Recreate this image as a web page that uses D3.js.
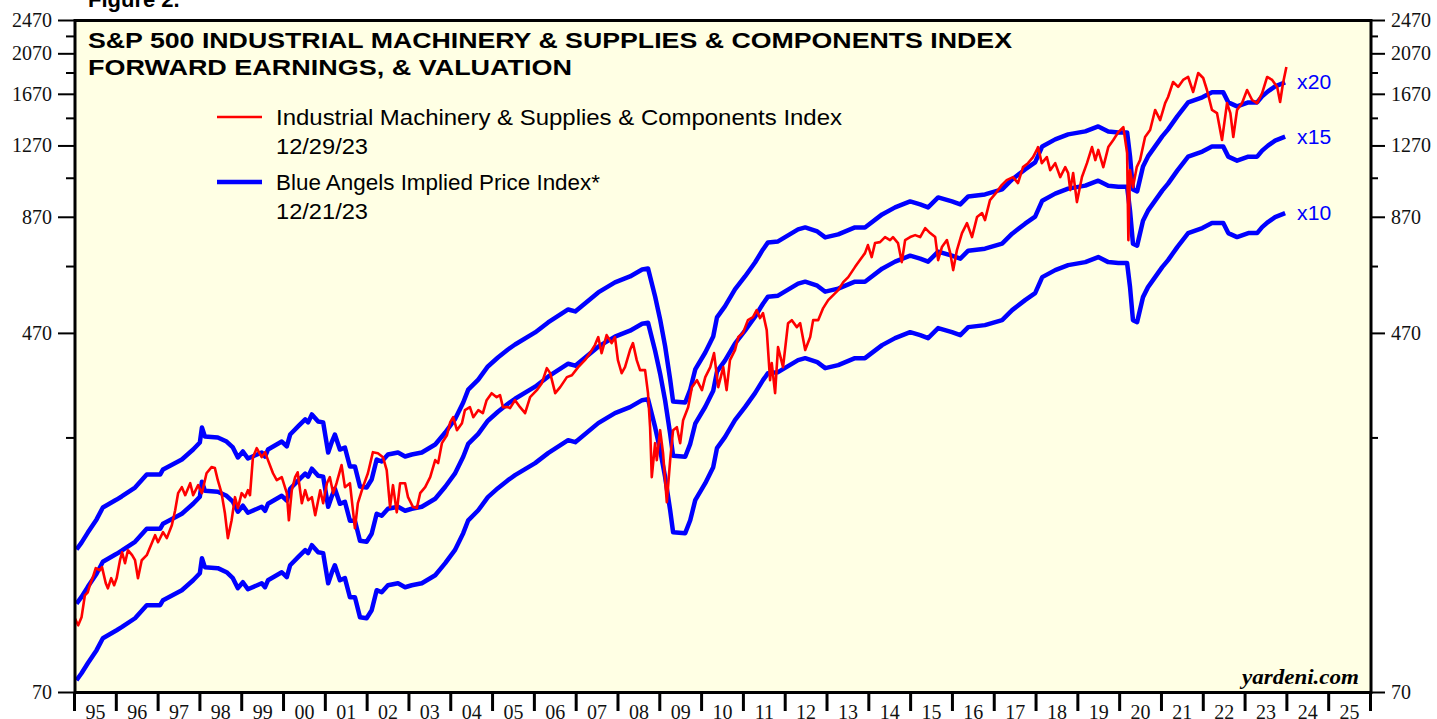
<!DOCTYPE html>
<html><head><meta charset="utf-8">
<script src="https://cdn.jsdelivr.net/npm/d3@7"></script>
<style>body{margin:0;background:#fff}svg{display:block}</style>
</head><body><svg id="c" width="1437" height="719"></svg>
<script>
// ---- DATA ----
const feDates = [1995.06,1995.18,1995.33,1995.54,1995.69,1996.02,1996.14,1996.46,1996.74,1997.06,
1997.13,1997.58,1997.85,1998.01,1998.06,1998.13,1998.44,1998.65,1998.80,1998.92,
1999.04,1999.16,1999.49,1999.57,1999.64,1999.97,2000.09,2000.17,2000.36,2000.53,
2000.60,2000.69,2000.84,2000.96,2001.08,2001.17,2001.24,2001.36,2001.48,2001.60,
2001.72,2001.84,2002.00,2002.12,2002.24,2002.36,2002.51,2002.75,2002.92,2003.08,
2003.32,2003.64,2003.88,2004.11,2004.31,2004.43,2004.67,2004.90,2005.14,2005.38,
2005.55,2006.03,2006.34,2006.82,2006.99,2007.54,2007.94,2008.30,2008.59,2008.73,
2008.90,2009.02,2009.14,2009.26,2009.33,2009.62,2009.74,2009.86,2010.10,2010.29,
2010.38,2010.57,2010.81,2011.05,2011.29,2011.48,2011.60,2011.84,2012.32,2012.49,
2012.78,2012.97,2013.28,2013.68,2013.92,2014.33,2014.64,2015.00,2015.24,2015.43,
2015.67,2016.00,2016.20,2016.39,2016.79,2017.20,2017.44,2017.75,2017.99,2018.16,
2018.47,2018.78,2019.19,2019.50,2019.74,2019.98,2020.19,2020.26,2020.33,2020.43,
2020.57,2020.69,2020.86,2021.03,2021.17,2021.39,2021.65,2021.99,2022.22,2022.49,
2022.61,2022.82,2023.09,2023.30,2023.42,2023.56,2023.73,2023.97];
const forwardEarnings = [7.45,7.73,8.15,8.74,9.31,9.71,9.87,10.35,11.09,11.09,
11.39,12.01,12.66,13.14,14.23,13.57,13.50,13.21,12.80,12.14,
12.53,12.07,12.46,12.20,12.66,13.21,12.87,13.71,14.31,14.85,
14.62,15.25,14.69,14.62,12.46,13.21,13.71,12.66,12.80,11.57,
11.57,10.41,10.35,10.80,12.01,11.88,12.33,12.46,12.20,12.33,
12.46,13.00,13.86,14.85,16.25,17.40,18.35,19.67,20.63,21.52,
22.10,23.56,24.84,26.61,26.33,29.13,30.71,31.70,32.90,33.08,
28.51,25.24,21.87,18.35,16.34,16.25,17.40,19.36,21.18,23.06,
25.51,27.04,29.59,31.70,34.14,36.58,37.97,38.17,40.68,41.11,
40.25,38.99,39.62,41.11,41.11,44.05,45.72,47.19,46.45,45.72,
48.21,47.19,46.45,48.46,48.98,50.29,53.03,55.92,58.03,63.18,
65.57,67.33,68.41,70.25,68.41,68.05,68.05,59.91,50.29,49.77,
56.82,59.91,63.18,66.62,69.14,74.08,79.79,81.94,84.14,84.14,
79.79,78.12,79.79,79.79,82.37,84.59,86.86,88.72];

const priceDates = [1995.02,1995.10,1995.18,1995.26,1995.33,1995.38,1995.45,1995.52,1995.62,1995.67,
1995.76,1995.81,1995.89,1995.96,1996.02,1996.10,1996.15,1996.22,1996.29,1996.39,
1996.46,1996.53,1996.62,1996.74,1996.86,1996.94,1997.01,1997.13,1997.22,1997.34,
1997.42,1997.49,1997.58,1997.66,1997.78,1997.85,1997.97,1998.06,1998.17,1998.29,
1998.37,1998.44,1998.53,1998.61,1998.68,1998.77,1998.85,1998.92,1999.01,1999.09,
1999.16,1999.21,1999.28,1999.37,1999.49,1999.57,1999.64,1999.76,1999.85,1999.97,
2000.09,2000.14,2000.21,2000.29,2000.35,2000.45,2000.53,2000.60,2000.69,2000.77,
2000.89,2000.96,2001.05,2001.12,2001.20,2001.28,2001.40,2001.48,2001.60,2001.72,
2001.79,2001.91,2002.03,2002.15,2002.27,2002.39,2002.48,2002.56,2002.63,2002.72,
2002.80,2002.92,2002.99,2003.11,2003.20,2003.28,2003.40,2003.52,2003.64,2003.71,
2003.80,2003.92,2004.00,2004.07,2004.16,2004.28,2004.35,2004.47,2004.55,2004.67,
2004.78,2004.87,2004.99,2005.11,2005.19,2005.26,2005.38,2005.43,2005.55,2005.67,
2005.79,2005.91,2006.07,2006.19,2006.31,2006.39,2006.51,2006.63,2006.79,2006.91,
2007.06,2007.22,2007.34,2007.46,2007.54,2007.62,2007.74,2007.86,2007.94,2008.01,
2008.10,2008.18,2008.30,2008.37,2008.46,2008.54,2008.66,2008.73,2008.78,2008.82,
2008.90,2008.94,2009.02,2009.09,2009.18,2009.26,2009.33,2009.42,2009.50,2009.57,
2009.69,2009.78,2009.90,2010.02,2010.10,2010.22,2010.31,2010.41,2010.53,2010.61,
2010.69,2010.81,2010.89,2011.00,2011.12,2011.24,2011.33,2011.41,2011.48,2011.57,
2011.65,2011.69,2011.77,2011.84,2011.96,2012.08,2012.17,2012.29,2012.37,2012.49,
2012.61,2012.68,2012.80,2012.92,2013.04,2013.16,2013.28,2013.40,2013.52,2013.68,
2013.80,2013.92,2013.99,2014.08,2014.16,2014.28,2014.40,2014.52,2014.59,2014.71,
2014.80,2014.88,2015.00,2015.12,2015.24,2015.36,2015.48,2015.60,2015.67,2015.76,
2015.88,2015.96,2016.03,2016.12,2016.24,2016.36,2016.48,2016.60,2016.72,2016.79,
2016.91,2017.07,2017.19,2017.31,2017.46,2017.58,2017.70,2017.82,2017.94,2018.03,
2018.06,2018.15,2018.27,2018.35,2018.47,2018.59,2018.71,2018.78,2018.83,2018.90,
2018.99,2019.11,2019.23,2019.35,2019.43,2019.50,2019.62,2019.74,2019.86,2019.98,
2020.10,2020.19,2020.22,2020.26,2020.33,2020.42,2020.50,2020.62,2020.74,2020.86,
2020.98,2021.10,2021.17,2021.29,2021.41,2021.53,2021.65,2021.77,2021.89,2022.01,
2022.10,2022.22,2022.34,2022.46,2022.58,2022.66,2022.73,2022.82,2022.94,2023.06,
2023.18,2023.30,2023.42,2023.54,2023.66,2023.78,2023.85,2023.92,2024.00];
const priceValues = [103.5,99.7,104.0,116.9,118.8,123.3,128.6,135.0,133.5,135.7,
124.6,121.3,128.0,123.3,128.0,140.8,146.9,138.6,148.5,144.6,
140.8,128.0,140.8,144.6,154.1,160.8,154.9,163.4,158.3,169.5,
183.6,200.9,207.4,198.8,211.8,198.8,209.6,200.9,223.3,230.7,
229.5,215.2,200.9,180.6,158.3,174.0,196.7,185.6,200.9,196.7,
204.1,198.8,243.2,255.1,243.2,249.7,239.4,223.3,215.2,218.7,
200.9,174.0,204.1,218.7,224.5,190.5,204.1,193.6,196.7,178.7,
204.1,190.5,211.8,218.7,200.9,211.8,233.2,207.4,211.8,166.8,
190.5,207.4,223.3,249.7,248.4,243.2,227.0,186.6,209.6,181.5,
211.8,211.8,196.7,186.6,185.6,200.9,207.4,218.7,239.4,235.6,
261.9,273.2,292.8,300.6,280.6,291.2,312.0,317.0,300.6,312.0,
307.1,329.0,341.4,334.3,337.8,317.0,317.0,315.3,329.0,317.0,
307.1,334.3,346.9,360.0,389.9,379.7,341.4,352.5,371.7,375.6,
392.0,406.8,422.2,440.6,459.7,422.2,464.5,445.3,459.7,406.8,
379.7,392.0,429.1,445.3,406.8,385.8,385.8,341.4,285.1,218.7,
261.9,239.4,280.6,248.4,191.5,239.4,280.6,285.1,261.9,295.9,
317.0,352.5,365.8,346.9,371.7,392.0,422.2,352.5,392.0,346.9,
406.8,429.1,459.7,469.5,502.9,510.9,530.3,508.3,521.9,477.0,
365.8,400.4,341.4,435.9,392.0,494.9,502.9,484.6,494.9,429.1,
459.7,502.9,502.9,536.0,559.2,574.2,589.7,615.2,631.8,666.2,
691.4,717.5,748.7,702.5,756.7,760.6,781.2,768.8,781.2,756.7,
684.1,768.8,781.2,789.4,781.2,819.4,797.9,781.2,691.4,740.8,
768.8,717.5,655.7,729.1,797.9,841.4,781.2,868.6,887.2,854.8,
950.5,991.6,1029,1057,1074,1040,1132,1156,1194,1240,
1259,1156,1194,1114,1156,1074,1132,1097,1002,1097,
940.4,1074,1156,1259,1175,1240,1132,1259,1307,1363,
1400,1220,768.8,1114,1018,1132,1175,1328,1378,1533,
1453,1590,1642,1778,1732,1797,1826,1686,1865,1816,
1704,1533,1508,1307,1590,1508,1328,1533,1590,1704,
1616,1590,1677,1826,1797,1732,1599,1769,1925];

const multiples = [10, 15, 20];
const multipleLabels = ["x10", "x15", "x20"];
const yMajorTicks = [70, 470, 870, 1270, 1670, 2070, 2470];
const yMinorTicks = [270, 670, 1070, 1470, 1870, 2270];
const yearTicks = [1995,1996,1997,1998,1999,2000,2001,2002,2003,2004,2005,2006,2007,2008,2009,2010,
  2011,2012,2013,2014,2015,2016,2017,2018,2019,2020,2021,2022,2023,2024,2025,2026];
const yearLabels = ["95","96","97","98","99","00","01","02","03","04","05","06","07","08","09","10",
  "11","12","13","14","15","16","17","18","19","20","21","22","23","24","25"];
const titleLines = ["S&P 500 INDUSTRIAL MACHINERY & SUPPLIES & COMPONENTS INDEX", "FORWARD EARNINGS, & VALUATION"];
const legendItems = [
  {name: "Industrial Machinery & Supplies & Components Index", date: "12/29/23", color: "#ff0000", w: 2.5},
  {name: "Blue Angels Implied Price Index*", date: "12/21/23", color: "#0000ff", w: 4.5}
];

// ---- CHART ----
const svg = d3.select("#c");
const L = 74, R = 1370, T = 20, B = 692;
const x = d3.scaleLinear().domain([1995, 2026]).range([L, R]);
const y = d3.scaleLog().domain([70, 2470]).range([B, T]);

svg.append("text").attr("x", 88).attr("y", 7).attr("font-family", "Liberation Sans")
  .attr("font-weight", "bold").attr("font-size", 22).attr("fill", "#000").text("Figure 2.");

svg.append("rect").attr("x", L).attr("y", T).attr("width", R - L).attr("height", B - T)
  .attr("fill", "#ffffe4");

svg.append("defs").append("clipPath").attr("id", "clip")
  .append("rect").attr("x", L + 1).attr("y", T + 1).attr("width", R - L - 2).attr("height", B - T - 2);

const plot = svg.append("g").attr("clip-path", "url(#clip)");
const line = d3.line().x(d => x(d.t)).y(d => y(d.v));

multiples.forEach(m => {
  const data = feDates.map((t, i) => ({t, v: forwardEarnings[i] * m}));
  plot.append("path").datum(data).attr("d", line).attr("fill", "none")
    .attr("stroke", "#0000ff").attr("stroke-width", 4.5).attr("stroke-linejoin", "round");
});
const priceData = priceDates.map((t, i) => ({t, v: priceValues[i]}));
plot.append("path").datum(priceData).attr("d", line).attr("fill", "none")
  .attr("stroke", "#ff0000").attr("stroke-width", 2.6).attr("stroke-linejoin", "round");

// multiple labels
const lastFE = forwardEarnings[forwardEarnings.length - 1];
const lastT = feDates[feDates.length - 1];
multiples.forEach((m, i) => {
  svg.append("text").attr("x", x(lastT) + 12).attr("y", y(lastFE * m)).attr("dy", "0.35em")
    .attr("font-family", "Liberation Sans").attr("font-size", 20).attr("fill", "#0000ff")
    .attr("textLength", 34).attr("lengthAdjust", "spacingAndGlyphs")
    .text(multipleLabels[i]);
});

// frame
svg.append("rect").attr("x", L + 1).attr("y", T + 0.5).attr("width", R - L).attr("height", B - T)
  .attr("fill", "none").attr("stroke", "#000").attr("stroke-width", 3);

// y axes
function styleAxis(g) {
  g.select(".domain").remove();
  g.selectAll(".tick line").attr("stroke", "#000").attr("stroke-width", 2);
  g.selectAll(".tick text").attr("font-family", "Liberation Serif").attr("font-size", 20).attr("fill", "#111");
}
svg.append("g").attr("transform", `translate(${L},0)`)
  .call(d3.axisLeft(y).tickValues(yMajorTicks).tickFormat(d3.format("d")).tickSize(16).tickPadding(6))
  .call(styleAxis);
svg.append("g").attr("transform", `translate(${L},0)`)
  .call(d3.axisLeft(y).tickValues(yMinorTicks).tickFormat("").tickSize(8)).call(styleAxis);
svg.append("g").attr("transform", `translate(${R + 1},0)`)
  .call(d3.axisRight(y).tickValues(yMajorTicks).tickFormat(d3.format("d")).tickSize(14).tickPadding(6))
  .call(styleAxis);
svg.append("g").attr("transform", `translate(${R + 1},0)`)
  .call(d3.axisRight(y).tickValues(yMinorTicks).tickFormat("").tickSize(7)).call(styleAxis);

// x axis
const xg = svg.append("g").attr("transform", `translate(0,${B})`)
  .call(d3.axisBottom(x).tickValues(yearTicks).tickFormat("").tickSize(19)).call(styleAxis);
xg.selectAll(".tick line").attr("stroke-width", 3);
svg.append("g").attr("transform", `translate(0,${B})`)
  .call(d3.axisBottom(x).tickValues(yearLabels.map((_, i) => yearTicks[i] + 0.5))
    .tickFormat((d, i) => yearLabels[i]).tickSize(0).tickPadding(13))
  .call(styleAxis);

// title
const titleWidths = [924, 484];
titleLines.forEach((t, i) => {
  svg.append("text").attr("x", 88).attr("y", 48 + i * 27).attr("font-family", "Liberation Sans")
    .attr("font-weight", "bold").attr("font-size", 22).attr("fill", "#000")
    .attr("textLength", titleWidths[i]).attr("lengthAdjust", "spacingAndGlyphs").text(t);
});

// legend
const legendWidths = [566, 324];
legendItems.forEach((d, i) => {
  const cy = 117 + i * 65;
  svg.append("line").attr("x1", 217).attr("x2", 262).attr("y1", cy).attr("y2", cy)
    .attr("stroke", d.color).attr("stroke-width", d.w);
  svg.append("text").attr("x", 276).attr("y", cy).attr("dy", "0.35em").attr("font-family", "Liberation Sans")
    .attr("font-size", 22).attr("fill", "#000")
    .attr("textLength", legendWidths[i]).attr("lengthAdjust", "spacingAndGlyphs").text(d.name);
  svg.append("text").attr("x", 276).attr("y", cy + 29).attr("dy", "0.35em").attr("font-family", "Liberation Sans")
    .attr("font-size", 22).attr("fill", "#000")
    .attr("textLength", 92).attr("lengthAdjust", "spacingAndGlyphs").text(d.date);
});

svg.append("text").attr("x", 1242).attr("y", 684)
  .attr("font-family", "Liberation Serif").attr("font-weight", "bold").attr("font-style", "italic")
  .attr("font-size", 21).attr("fill", "#000")
  .attr("textLength", 117).attr("lengthAdjust", "spacingAndGlyphs").text("yardeni.com");
</script></body></html>
